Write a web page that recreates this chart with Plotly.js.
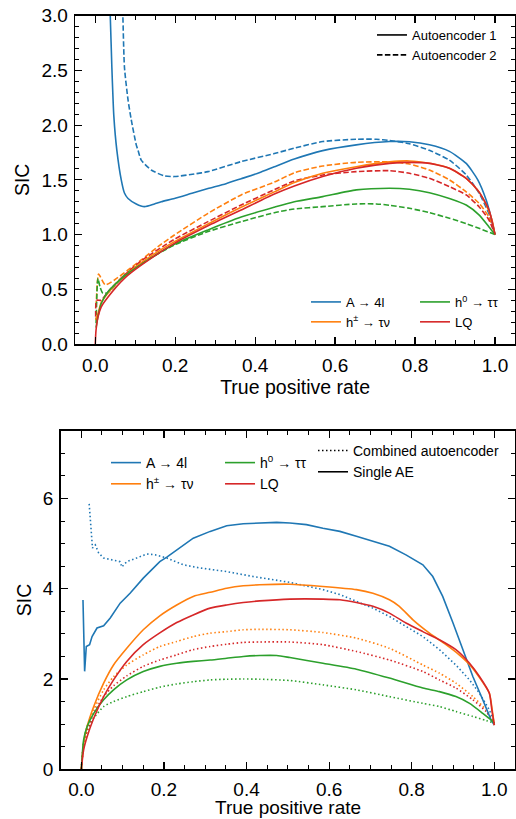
<!DOCTYPE html>
<html>
<head>
<meta charset="utf-8">
<script src="https://cdn.plot.ly/plotly-3.0.1.min.js"></script>
<style>html,body{margin:0;padding:0;background:#fff}#chart{width:516px;height:819px}</style>
</head>
<body>
<div id="chart"></div>
<script>
// ---------- Top panel: Autoencoder 1 (solid) vs Autoencoder 2 (dashed) ----------
const topA4lAE1X = [0.035, 0.0375, 0.0415, 0.0465, 0.054, 0.065, 0.073, 0.082, 0.1025, 0.123, 0.148, 0.165, 0.198, 0.244, 0.282, 0.327, 0.365, 0.41, 0.448, 0.498, 0.569, 0.653, 0.736, 0.786, 0.836, 0.886, 0.928, 0.957, 0.978, 0.99, 1.0];
const topA4lAE1Y = [3.2, 3.0, 2.53, 2.08, 1.77, 1.50, 1.38, 1.33, 1.28, 1.255, 1.28, 1.30, 1.33, 1.38, 1.42, 1.465, 1.51, 1.565, 1.62, 1.69, 1.767, 1.82, 1.85, 1.848, 1.82, 1.76, 1.65, 1.50, 1.316, 1.16, 1.0];
const topA4lAE2X = [0.067, 0.069, 0.073, 0.082, 0.09, 0.1025, 0.107, 0.115, 0.14, 0.173, 0.198, 0.248, 0.282, 0.365, 0.448, 0.498, 0.569, 0.653, 0.703, 0.736, 0.786, 0.836, 0.886, 0.928, 0.96, 0.985, 1.0];
const topA4lAE2Y = [3.2, 3.0, 2.53, 2.23, 2.05, 1.82, 1.77, 1.68, 1.59, 1.536, 1.53, 1.554, 1.575, 1.667, 1.74, 1.79, 1.85, 1.871, 1.871, 1.86, 1.83, 1.77, 1.68, 1.545, 1.38, 1.19, 1.0];

const topHpmAE1X = [0.001, 0.007, 0.015, 0.032, 0.057, 0.073, 0.082, 0.115, 0.198, 0.282, 0.365, 0.448, 0.498, 0.569, 0.653, 0.736, 0.786, 0.836, 0.886, 0.928, 0.96, 0.98, 0.9925, 1.0];
const topHpmAE1Y = [0.22, 0.28, 0.38, 0.465, 0.57, 0.615, 0.646, 0.743, 0.935, 1.097, 1.25, 1.39, 1.475, 1.56, 1.62, 1.664, 1.673, 1.651, 1.606, 1.514, 1.39, 1.255, 1.133, 1.0];
const topHpmAE2X = [0.002, 0.005, 0.0083, 0.012, 0.025, 0.048, 0.082, 0.115, 0.157, 0.198, 0.282, 0.365, 0.448, 0.498, 0.569, 0.653, 0.736, 0.786, 0.836, 0.886, 0.928, 0.96, 0.985, 1.0];
const topHpmAE2Y = [0.34, 0.55, 0.64, 0.62, 0.54, 0.585, 0.676, 0.768, 0.89, 0.996, 1.194, 1.362, 1.48, 1.565, 1.627, 1.66, 1.664, 1.645, 1.59, 1.50, 1.39, 1.286, 1.16, 1.0];

const topH0AE1X = [0.002, 0.0067, 0.015, 0.032, 0.073, 0.115, 0.198, 0.282, 0.365, 0.448, 0.498, 0.569, 0.653, 0.736, 0.786, 0.836, 0.886, 0.928, 0.96, 0.985, 1.0];
const topH0AE1Y = [0.15, 0.25, 0.37, 0.478, 0.62, 0.728, 0.911, 1.042, 1.16, 1.25, 1.30, 1.347, 1.408, 1.423, 1.414, 1.383, 1.33, 1.27, 1.18, 1.07, 1.0];
const topH0AE2X = [0.002, 0.0067, 0.012, 0.019, 0.032, 0.073, 0.115, 0.198, 0.282, 0.365, 0.448, 0.498, 0.569, 0.653, 0.703, 0.736, 0.786, 0.836, 0.886, 0.928, 0.96, 1.0];
const topH0AE2Y = [0.19, 0.60, 0.52, 0.463, 0.47, 0.63, 0.737, 0.905, 1.027, 1.118, 1.20, 1.234, 1.255, 1.28, 1.28, 1.268, 1.24, 1.20, 1.149, 1.10, 1.057, 1.0];

const topLQAE1X = [0, 0.001, 0.002, 0.007, 0.015, 0.032, 0.073, 0.115, 0.198, 0.282, 0.365, 0.448, 0.498, 0.569, 0.653, 0.736, 0.786, 0.836, 0.886, 0.928, 0.96, 0.985, 1.0];
const topLQAE1Y = [0, 0.08, 0.13, 0.25, 0.34, 0.43, 0.60, 0.72, 0.92, 1.08, 1.225, 1.37, 1.444, 1.53, 1.606, 1.651, 1.66, 1.651, 1.606, 1.514, 1.39, 1.225, 1.0];
const topLQAE2X = [0.001, 0.003, 0.008, 0.015, 0.032, 0.073, 0.115, 0.198, 0.282, 0.365, 0.448, 0.498, 0.569, 0.653, 0.736, 0.786, 0.836, 0.886, 0.928, 0.96, 0.985, 1.0];
const topLQAE2Y = [0.25, 0.40, 0.40, 0.40, 0.478, 0.63, 0.76, 0.957, 1.118, 1.27, 1.41, 1.49, 1.545, 1.575, 1.584, 1.56, 1.514, 1.438, 1.362, 1.255, 1.133, 1.0];

// ---------- Bottom panel: Single AE (solid) vs Combined autoencoder (dotted) ----------
const botA4lSingleX = [0.004, 0.006, 0.008, 0.012, 0.02, 0.026, 0.038, 0.054, 0.07, 0.094, 0.118, 0.15, 0.19, 0.207, 0.231, 0.271, 0.312, 0.352, 0.392, 0.432, 0.473, 0.505, 0.545, 0.585, 0.626, 0.666, 0.706, 0.746, 0.786, 0.827, 0.851, 0.875, 0.9, 0.924, 0.948, 0.972, 0.992, 1.0];
const botA4lSingleY = [3.75, 2.6, 2.17, 2.72, 2.76, 2.94, 3.13, 3.18, 3.35, 3.68, 3.90, 4.235, 4.60, 4.70, 4.86, 5.12, 5.27, 5.395, 5.44, 5.455, 5.47, 5.455, 5.42, 5.34, 5.27, 5.16, 5.05, 4.94, 4.75, 4.53, 4.27, 3.83, 3.24, 2.65, 2.055, 1.54, 1.094, 0.98];
const botA4lCombX = [0.019, 0.023, 0.027, 0.034, 0.042, 0.054, 0.074, 0.094, 0.098, 0.11, 0.134, 0.159, 0.179, 0.207, 0.247, 0.287, 0.352, 0.416, 0.505, 0.585, 0.626, 0.666, 0.706, 0.746, 0.786, 0.827, 0.867, 0.907, 0.94, 0.964, 0.988, 1.0];
const botA4lCombY = [5.88, 5.31, 4.90, 4.97, 4.79, 4.68, 4.64, 4.60, 4.48, 4.60, 4.68, 4.77, 4.75, 4.68, 4.53, 4.46, 4.38, 4.27, 4.14, 3.98, 3.87, 3.72, 3.57, 3.385, 3.16, 2.94, 2.65, 2.31, 1.98, 1.685, 1.316, 1.02];

const botHpmSingleX = [0, 0.0056, 0.014, 0.03, 0.054, 0.078, 0.11, 0.15, 0.19, 0.231, 0.271, 0.312, 0.352, 0.392, 0.432, 0.505, 0.585, 0.666, 0.706, 0.746, 0.77, 0.803, 0.843, 0.883, 0.915, 0.944, 0.968, 0.988, 0.996, 1.0];
const botHpmSingleY = [0, 0.58, 0.946, 1.39, 1.907, 2.31, 2.68, 3.09, 3.40, 3.64, 3.83, 3.92, 4.01, 4.065, 4.087, 4.10, 4.05, 3.98, 3.90, 3.755, 3.61, 3.31, 3.015, 2.76, 2.535, 2.28, 1.98, 1.685, 1.24, 0.98];
const botHpmCombX = [0, 0.0056, 0.014, 0.03, 0.054, 0.078, 0.11, 0.15, 0.19, 0.231, 0.271, 0.312, 0.352, 0.392, 0.432, 0.505, 0.585, 0.666, 0.746, 0.827, 0.867, 0.907, 0.948, 0.98, 1.0];
const botHpmCombY = [0, 0.6, 0.95, 1.32, 1.76, 2.05, 2.31, 2.535, 2.72, 2.83, 2.94, 3.015, 3.05, 3.09, 3.10, 3.09, 3.03, 2.905, 2.68, 2.31, 2.13, 1.907, 1.61, 1.316, 1.02];

const botH0SingleX = [0, 0.0056, 0.014, 0.03, 0.054, 0.078, 0.11, 0.15, 0.19, 0.231, 0.271, 0.312, 0.352, 0.392, 0.432, 0.473, 0.505, 0.585, 0.666, 0.746, 0.827, 0.867, 0.907, 0.94, 0.972, 0.992, 1.0];
const botH0SingleY = [0, 0.65, 0.946, 1.24, 1.54, 1.76, 1.98, 2.165, 2.28, 2.35, 2.39, 2.42, 2.46, 2.50, 2.52, 2.52, 2.475, 2.35, 2.217, 2.02, 1.80, 1.72, 1.61, 1.46, 1.24, 1.094, 1.02];
const botH0CombX = [0, 0.0056, 0.014, 0.03, 0.054, 0.078, 0.11, 0.15, 0.19, 0.231, 0.271, 0.312, 0.352, 0.392, 0.432, 0.505, 0.585, 0.666, 0.746, 0.827, 0.867, 0.907, 0.948, 0.98, 1.0];
const botH0CombY = [0, 0.55, 0.85, 1.13, 1.39, 1.50, 1.61, 1.72, 1.82, 1.89, 1.94, 1.98, 1.995, 2.00, 1.995, 1.966, 1.87, 1.76, 1.61, 1.46, 1.39, 1.28, 1.17, 1.08, 1.02];

const botLQSingleX = [0, 0.0056, 0.014, 0.03, 0.054, 0.078, 0.11, 0.15, 0.19, 0.231, 0.271, 0.312, 0.352, 0.392, 0.432, 0.505, 0.585, 0.626, 0.666, 0.706, 0.746, 0.786, 0.827, 0.867, 0.907, 0.94, 0.964, 0.988, 0.994, 1.0];
const botLQSingleY = [0, 0.43, 0.72, 1.13, 1.61, 1.98, 2.39, 2.76, 3.02, 3.25, 3.42, 3.57, 3.64, 3.695, 3.73, 3.77, 3.77, 3.755, 3.695, 3.61, 3.46, 3.24, 3.05, 2.87, 2.65, 2.35, 2.055, 1.685, 1.316, 0.98];
const botLQCombX = [0, 0.0056, 0.014, 0.03, 0.054, 0.078, 0.11, 0.15, 0.19, 0.231, 0.271, 0.312, 0.352, 0.392, 0.432, 0.505, 0.585, 0.666, 0.746, 0.827, 0.867, 0.907, 0.948, 0.98, 1.0];
const botLQCombY = [0, 0.55, 0.85, 1.24, 1.61, 1.85, 2.07, 2.28, 2.42, 2.535, 2.65, 2.72, 2.77, 2.81, 2.82, 2.82, 2.76, 2.61, 2.42, 2.165, 1.98, 1.80, 1.54, 1.28, 1.02];

// ---------- Labels ----------
const signalNames = ['A → 4l', 'h<sup>±</sup> → τν', 'h<sup>0</sup> → ττ', 'LQ'];
const topStyleNames = ['Autoencoder 1', 'Autoencoder 2'];
const botStyleNames = ['Combined autoencoder', 'Single AE'];
const xTitle = 'True positive rate';
const yTitle = 'SIC';

const C = {blue: '#1f77b4', orange: '#ff7f0e', green: '#2ca02c', red: '#d62728'};
const DASH = '5.5px,2.4px';
const DOT = '1.5px,2.5px';
const LW = 1.6;

function tr(x, y, color, dash, xa, ya, name, legend, show, sharp) {
  return {type: 'scatter', mode: 'lines', x: x, y: y, xaxis: xa, yaxis: ya,
    line: {color: color, width: LW, dash: dash, shape: sharp ? 'linear' : 'spline', smoothing: 0.6},
    name: name || ' ', legend: legend || 'legend', showlegend: !!show, hoverinfo: 'skip'};
}

const traces = [
  // top panel
  tr(topA4lAE2X, topA4lAE2Y, C.blue, DASH, 'x', 'y'),
  tr(topHpmAE2X, topHpmAE2Y, C.orange, DASH, 'x', 'y'),
  tr(topH0AE2X, topH0AE2Y, C.green, DASH, 'x', 'y'),
  tr(topLQAE2X, topLQAE2Y, C.red, DASH, 'x', 'y'),
  tr(topA4lAE1X, topA4lAE1Y, C.blue, 'solid', 'x', 'y', signalNames[0], 'legend', true),
  tr(topHpmAE1X, topHpmAE1Y, C.orange, 'solid', 'x', 'y', signalNames[1], 'legend', true),
  tr(topH0AE1X, topH0AE1Y, C.green, 'solid', 'x', 'y', signalNames[2], 'legend2', true),
  tr(topLQAE1X, topLQAE1Y, C.red, 'solid', 'x', 'y', signalNames[3], 'legend2', true),
  tr([null], [null], '#000', 'solid', 'x', 'y', topStyleNames[0], 'legend3', true, true),
  tr([null], [null], '#000', DASH, 'x', 'y', topStyleNames[1], 'legend3', true, true),
  // bottom panel
  tr(botA4lCombX, botA4lCombY, C.blue, DOT, 'x2', 'y2', '', '', false, true),
  tr(botHpmCombX, botHpmCombY, C.orange, DOT, 'x2', 'y2'),
  tr(botH0CombX, botH0CombY, C.green, DOT, 'x2', 'y2'),
  tr(botLQCombX, botLQCombY, C.red, DOT, 'x2', 'y2'),
  tr(botA4lSingleX, botA4lSingleY, C.blue, 'solid', 'x2', 'y2', signalNames[0], 'legend4', true, true),
  tr(botHpmSingleX, botHpmSingleY, C.orange, 'solid', 'x2', 'y2', signalNames[1], 'legend4', true),
  tr(botH0SingleX, botH0SingleY, C.green, 'solid', 'x2', 'y2', signalNames[2], 'legend5', true),
  tr(botLQSingleX, botLQSingleY, C.red, 'solid', 'x2', 'y2', signalNames[3], 'legend5', true),
  tr([null], [null], '#000', DOT, 'x2', 'y2', botStyleNames[0], 'legend6', true, true),
  tr([null], [null], '#000', 'solid', 'x2', 'y2', botStyleNames[1], 'legend6', true, true)
];

const FONT = 'Liberation Sans, Arial, Helvetica, sans-serif';

function xAx(domain, anchor, withTitle, labelGap) {
  const ax = {domain: domain, anchor: anchor, range: [-0.05, 1.05], tick0: 0, dtick: 0.2, tickformat: '.1f',
    ticks: 'inside', ticklen: 7, tickwidth: 1.2, tickcolor: '#000', mirror: 'allticks',
    showline: true, linewidth: 1.6, linecolor: '#000', showgrid: false, zeroline: false,
    minor: {dtick: 0.05, ticks: 'inside', ticklen: 4, tickwidth: 1, tickcolor: '#000', showgrid: false},
    tickfont: {size: 19, color: '#000'}, ticklabelstandoff: labelGap};
  if (withTitle) ax.title = {text: xTitle, font: {size: 19.5, color: '#000'}, standoff: 5};
  return ax;
}
function yAx(domain, anchor, range, dtick, minorDtick, fmt) {
  return {domain: domain, anchor: anchor, range: range, tick0: 0, dtick: dtick, tickformat: fmt,
    ticks: 'inside', ticklen: 7, tickwidth: 1.2, tickcolor: '#000', mirror: 'allticks',
    showline: true, linewidth: 1.6, linecolor: '#000', showgrid: false, zeroline: false,
    minor: {dtick: minorDtick, ticks: 'inside', ticklen: 4, tickwidth: 1, tickcolor: '#000', showgrid: false},
    tickfont: {size: 19, color: '#000'}, ticklabelstandoff: 2,
    title: {text: yTitle, font: {size: 19.5, color: '#000'}, standoff: 6}};
}
function leg(x, y, size) {
  return {x: x, y: y, xanchor: 'left', yanchor: 'top', bgcolor: 'rgba(0,0,0,0)', borderwidth: 0,
    font: {size: size, color: '#000'}, traceorder: 'normal', tracegroupgap: 0};
}

const layout = {
  width: 516, height: 819,
  margin: {l: 0, r: 0, t: 0, b: 0},
  paper_bgcolor: '#fff', plot_bgcolor: '#fff',
  font: {family: FONT, color: '#000'},
  showlegend: true,
  xaxis: xAx([0.1459, 0.998], 'y', true, 4),
  yaxis: yAx([0.58, 0.9808], 'x', [0, 3], 0.5, 0.1, '.1f'),
  xaxis2: xAx([0.1176, 0.998], 'y2', false, 2),
  yaxis2: yAx([0.0607, 0.4741], 'x2', [0, 7.5], 2, 0.5, 'd'),
  legend: leg(0.593, 0.6496, 13),
  legend2: leg(0.8043, 0.6496, 13),
  legend3: leg(0.7209, 0.9756, 13),
  legend4: leg(0.2054, 0.4542, 14),
  legend5: leg(0.4264, 0.4542, 14),
  legend6: leg(0.6066, 0.4689, 14),
  annotations: [{
    text: xTitle, xref: 'x2 domain', yref: 'paper', x: 0.5, y: 0, yshift: 0.5, borderpad: 0,
    xanchor: 'center', yanchor: 'bottom', showarrow: false,
    font: {size: 19, color: '#000', family: FONT}
  }]
};

Plotly.newPlot('chart', traces, layout, {displayModeBar: false, staticPlot: true});
</script>
</body>
</html>
